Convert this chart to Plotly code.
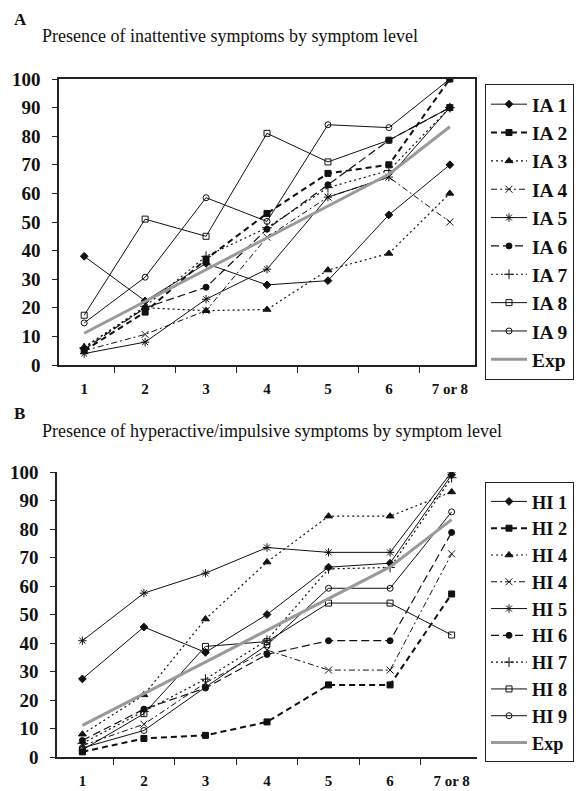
import plotly.graph_objects as go

# Symptom level categories shared by both panels
levels = ["1", "2", "3", "4", "5", "6", "7 or 8"]

# Panel A: inattentive symptoms (% presence by symptom level)
ia_names = ["IA 1", "IA 2", "IA 3", "IA 4", "IA 5", "IA 6", "IA 7", "IA 8", "IA 9", "Exp"]
ia1 = [38, 22.4, 35.5, 28, 29.5, 52.5, 70]
ia2 = [5, 18.5, 37, 53, 67, 70, 100]
ia3 = [6.3, 20, 19, 19.4, 33.2, 39, 60]
ia4 = [5, 10.7, 19, 44.7, 58.7, 65.7, 50]
ia5 = [4, 8, 23, 33.5, 58.7, 65.7, 90]
ia6 = [5.5, 20, 27.2, 47.5, 63, 78.6, 90]
ia7 = [6, 20.5, 38, 48, 62, 68, 90]
ia8 = [17.4, 51, 45, 81, 71, 78.6, 90]
ia9 = [14.7, 30.7, 58.5, 50.2, 84, 83, 100]
ia_exp = [11.1, 22.2, 33.3, 44.4, 55.6, 66.7, 83.3]

# Panel B: hyperactive/impulsive symptoms
hi_names = ["HI 1", "HI 2", "HI 4", "HI 4", "HI 5", "HI 6", "HI 7", "HI 8", "HI 9", "Exp"]
hi1 = [27.4, 45.6, 36.7, 50, 66.6, 68, 99]
hi2 = [1.8, 6.5, 7.6, 12.3, 25.3, 25.3, 57.2]
hi3 = [8, 21.8, 48.4, 68.4, 84.5, 84.5, 93]
hi4 = [4, 11.5, 26, 37.5, 30.5, 30.5, 71.3]
hi5 = [40.8, 57.5, 64.5, 73.5, 71.8, 71.8, 100]
hi6 = [5.8, 16.8, 24.2, 36, 40.8, 40.8, 78.8]
hi7 = [4.8, 16, 27.3, 41, 66, 66.5, 98]
hi8 = [2.5, 15.2, 38.8, 40.5, 54, 54, 42.8]
hi9 = [3.2, 9.3, 24.5, 39.3, 59.2, 59.2, 86]
hi_exp = [11.1, 22.2, 33.3, 44.4, 55.6, 66.7, 83.3]

ia_series = [ia1, ia2, ia3, ia4, ia5, ia6, ia7, ia8, ia9, ia_exp]
hi_series = [hi1, hi2, hi3, hi4, hi5, hi6, hi7, hi8, hi9, hi_exp]

# Line / marker style per series position (same scheme in both panels)
styles = [
    dict(dash="solid", width=1, symbol="diamond", size=6),
    dict(dash="6px,4px", width=2, symbol="square", size=6),
    dict(dash="2px,3px", width=1.2, symbol="triangle-up", size=7),
    dict(dash="6px,3px,2px,3px", width=1, symbol="x-thin-open", size=7),
    dict(dash="solid", width=1, symbol="asterisk-open", size=7),
    dict(dash="8px,4px", width=1.2, symbol="circle", size=6),
    dict(dash="2px,3px", width=1.2, symbol="cross-thin-open", size=7),
    dict(dash="solid", width=1, symbol="square-open", size=6),
    dict(dash="solid", width=1, symbol="circle-open", size=6),
    dict(dash="solid", width=3, symbol=None, size=0),
]

W, H = 582, 791
SERIF = "Liberation Serif, Times New Roman, serif"


def px_x(v):
    return v / W


def px_y(v):
    return 1 - v / H


fig = go.Figure()


def add_panel(names, series, xaxis, yaxis, legend):
    for name, vals, st in zip(names, series, styles):
        is_exp = st["symbol"] is None
        color = "#9a9a9a" if is_exp else "#111111"
        kw = dict(
            x=levels, y=vals, name=name, xaxis=xaxis, yaxis=yaxis, legend=legend,
            line=dict(color=color, width=st["width"], dash=st["dash"]),
        )
        if is_exp:
            kw["mode"] = "lines"
        else:
            kw["mode"] = "lines+markers"
            kw["marker"] = dict(symbol=st["symbol"], size=st["size"], color="#111111",
                                line=dict(color="#111111", width=1))
        fig.add_trace(go.Scatter(**kw))


add_panel(ia_names, ia_series, "x", "y", "legend")
add_panel(hi_names, hi_series, "x2", "y2", "legend2")

xcommon = dict(
    type="category", categoryorder="array", categoryarray=levels,
    tickson="boundaries", ticks="outside", ticklen=6, tickwidth=1.2, tickcolor="#222",
    showline=True, linecolor="#222", linewidth=1.5, showgrid=False, zeroline=False,
    tickfont=dict(family=SERIF, size=15, color="#111", weight="bold"),
    ticklabelstandoff=9, automargin=False, fixedrange=True,
)
ycommon = dict(
    range=[0, 100], dtick=10, ticks="outside", ticklen=5, tickwidth=1.2, tickcolor="#222",
    showline=True, linecolor="#222", linewidth=1.5, showgrid=False, zeroline=False,
    tickfont=dict(family=SERIF, size=19, color="#111", weight="bold"),
    ticklabelstandoff=8, automargin=False, fixedrange=True,
)

legend_common = dict(
    xanchor="left", yanchor="top", itemwidth=36,
    bordercolor="#222", borderwidth=1, bgcolor="white",
)

fig.update_layout(
    template="none",
    width=W, height=H,
    margin=dict(l=0, r=0, t=0, b=0),
    paper_bgcolor="white", plot_bgcolor="white",
    xaxis=dict(xcommon, domain=[px_x(59), px_x(475)], anchor="y", mirror=True),
    yaxis=dict(ycommon, domain=[px_y(365), px_y(79)], anchor="x", mirror=True),
    xaxis2=dict(xcommon, domain=[px_x(57), px_x(477)], anchor="y2"),
    yaxis2=dict(ycommon, domain=[px_y(757), px_y(472)], anchor="x2"),
    legend=dict(
        legend_common, x=px_x(485), y=px_y(84),
        font=dict(family=SERIF, size=19.5, color="#111", weight="bold"),
    ),
    legend2=dict(
        legend_common, x=px_x(485), y=px_y(482),
        font=dict(family=SERIF, size=18.3, color="#111", weight="bold"),
    ),
    annotations=[
        dict(text="A", x=px_x(12), y=px_y(19), xref="paper", yref="paper",
             xanchor="left", yanchor="middle", showarrow=False,
             font=dict(family=SERIF, size=17, color="#111", weight="bold")),
        dict(text="Presence of inattentive symptoms by symptom level",
             x=px_x(40), y=px_y(36), xref="paper", yref="paper",
             xanchor="left", yanchor="middle", showarrow=False,
             font=dict(family=SERIF, size=18, color="#111")),
        dict(text="B", x=px_x(12), y=px_y(413), xref="paper", yref="paper",
             xanchor="left", yanchor="middle", showarrow=False,
             font=dict(family=SERIF, size=17, color="#111", weight="bold")),
        dict(text="Presence of hyperactive/impulsive symptoms by symptom level",
             x=px_x(40), y=px_y(431), xref="paper", yref="paper",
             xanchor="left", yanchor="middle", showarrow=False,
             font=dict(family=SERIF, size=18, color="#111")),
    ],
)

fig.write_html("out.html")
